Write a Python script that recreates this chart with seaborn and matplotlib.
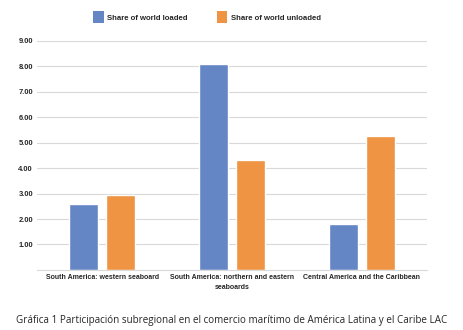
import matplotlib
matplotlib.use("Agg")
import matplotlib.pyplot as plt
import seaborn as sns
import pandas as pd
from matplotlib.patches import Patch

categories = ["South America: western seaboard",
              "South America: northern and eastern\nseaboards",
              "Central America and the Caribbean"]
series = ["Share of world loaded", "Share of world unloaded"]
loaded = [2.58, 8.10, 1.80]
unloaded = [2.95, 4.33, 5.25]
yticks = [1, 2, 3, 4, 5, 6, 7, 8, 9]
caption = "Gráfica 1 Participación subregional en el comercio marítimo de América Latina y el Caribe LAC"

colors = ["#6586C5", "#EE9443"]

df = pd.DataFrame({
    "category": categories * 2,
    "series": [series[0]] * 3 + [series[1]] * 3,
    "value": loaded + unloaded,
})

sns.set_theme(style="white")
plt.rcParams['font.family'] = ['Liberation Sans', 'DejaVu Sans']

fig = plt.figure(figsize=(4.64, 3.30), dpi=100)
ax = fig.add_axes([0.08, 0.182, 0.84, 0.694])

sns.barplot(data=df, x="category", y="value", hue="series",
            palette=colors, width=0.56, gap=0.2, ax=ax, legend=False,
            saturation=1)

ax.set_ylim(0, 9)
ax.set_xlim(-0.5, 2.5)
ax.set_yticks(yticks)
ax.set_yticklabels([f"{v:.2f}" for v in yticks], fontsize=5.4, fontweight="bold")
ax.set_xticklabels(categories, fontsize=5, fontweight="bold", linespacing=1.5)
ax.tick_params(axis="both", length=0, pad=3)
ax.tick_params(axis="y", pad=3)
ax.set_xlabel("")
ax.set_ylabel("")
ax.yaxis.grid(True, color="#d9d9d9", linewidth=0.8)
ax.set_axisbelow(True)
for s in ["top", "right", "left"]:
    ax.spines[s].set_visible(False)
ax.spines["bottom"].set_color("#d9d9d9")
ax.spines["bottom"].set_linewidth(0.8)

handles = [Patch(facecolor=c, edgecolor="none") for c in colors]
fig.legend(handles, series, loc="center", bbox_to_anchor=(0.446, 0.948),
           ncol=2, frameon=False, prop={"size": 5.6, "weight": "bold"},
           handlelength=1.4, handleheight=2.0, columnspacing=3.7,
           handletextpad=0.4)

fig.text(0.5, 0.03, caption, ha="center", va="center", fontsize=7.15,
         family=["Open Sans", "DejaVu Sans"])

fig.savefig("out.png", dpi=100)
